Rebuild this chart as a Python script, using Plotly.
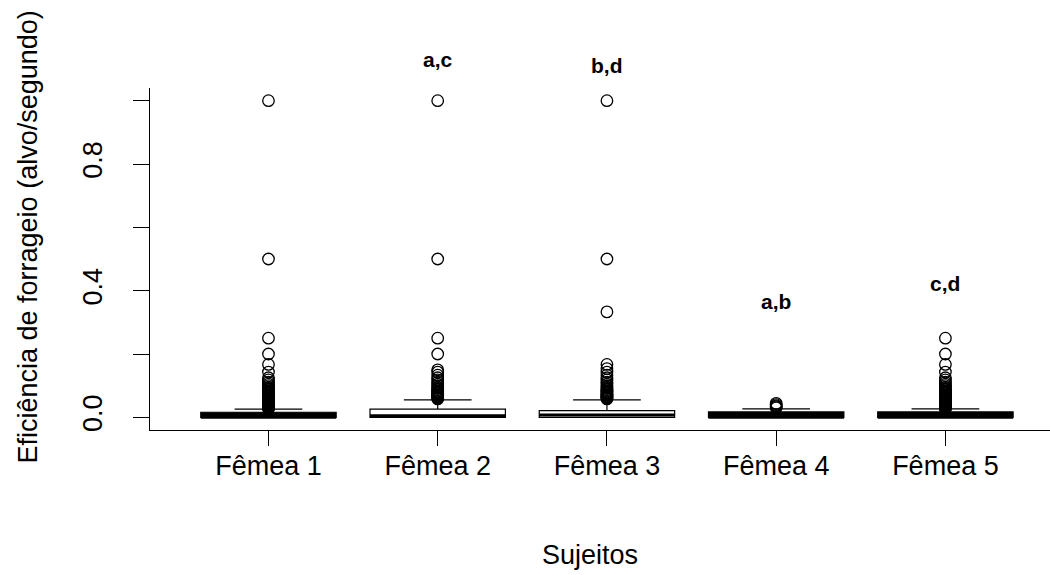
import plotly.graph_objects as go

# ---- data ----
categories = ["Fêmea 1", "Fêmea 2", "Fêmea 3", "Fêmea 4", "Fêmea 5"]
positions = [1, 2, 3, 4, 5]
q1 = [0.0, 0.0, 0.0, 0.0, 0.0]
median = [0.0, 0.005, 0.007, 0.0, 0.0]
q3 = [0.016, 0.026, 0.021, 0.017, 0.017]
lower = [0.0, 0.0, 0.0, 0.0, 0.0]
upper = [0.026, 0.055, 0.055, 0.027, 0.027]
box_fill = ["black", "white", "white", "black", "black"]

out_f1 = [1.0, 0.5, 0.25, 0.2, 0.167, 0.143, 0.125, 0.118, 0.111, 0.105, 0.1, 0.095,
          0.091, 0.087, 0.083, 0.08, 0.077, 0.074, 0.071, 0.069, 0.067, 0.065, 0.0625,
          0.06, 0.058, 0.056, 0.054, 0.052, 0.05, 0.048, 0.047, 0.045, 0.044, 0.043,
          0.042, 0.04, 0.039, 0.038, 0.037, 0.036, 0.035, 0.034, 0.033, 0.032, 0.031,
          0.03, 0.029, 0.028]
out_f2 = [1.0, 0.5, 0.25, 0.2, 0.15, 0.143, 0.133, 0.125, 0.118, 0.111, 0.105, 0.1,
          0.095, 0.091, 0.087, 0.083, 0.08, 0.077, 0.074, 0.071, 0.069, 0.067, 0.065,
          0.0625, 0.06, 0.058]
out_f3 = [1.0, 0.5, 0.333, 0.167, 0.154, 0.143, 0.133, 0.125, 0.118, 0.111, 0.105,
          0.1, 0.095, 0.091, 0.087, 0.083, 0.08, 0.077, 0.074, 0.071, 0.069, 0.067,
          0.065, 0.0625, 0.06, 0.058]
out_f4 = [0.044, 0.04, 0.036, 0.033, 0.03]
out_f5 = [0.25, 0.2, 0.167, 0.143, 0.125, 0.118, 0.111, 0.105, 0.1, 0.095, 0.091,
          0.087, 0.083, 0.08, 0.077, 0.074, 0.071, 0.069, 0.067, 0.065, 0.0625, 0.06,
          0.058, 0.056, 0.054, 0.052, 0.05, 0.048, 0.047, 0.045, 0.044, 0.043, 0.042,
          0.04, 0.039, 0.038, 0.037, 0.036, 0.035, 0.034, 0.033, 0.032, 0.031, 0.03,
          0.029, 0.028]
outliers = [out_f1, out_f2, out_f3, out_f4, out_f5]

sig_labels = ["a,c", "b,d", "a,b", "c,d"]
sig_pos = [2, 3, 4, 5]
sig_y = [1.1286, 1.1115, 0.3665, 0.4227]

y_range = [-0.04, 1.04]
x_range = [0.3, 5.618]
y_ticks = [0.0, 0.2, 0.4, 0.6, 0.8, 1.0]
y_ticktext = ["0.0", "", "0.4", "", "0.8", ""]

x_title = "Sujeitos"
y_title = "Eficiência de forrageio (alvo/segundo)"

# ---- style ----
FONT = "Liberation Sans, Arial, sans-serif"
FS = 27
BOXW = 0.8
fig = go.Figure()

for i, p in enumerate(positions):
    fig.add_trace(go.Box(
        x=[p], q1=[q1[i]], median=[median[i]], q3=[q3[i]],
        lowerfence=[lower[i]], upperfence=[upper[i]],
        width=BOXW, whiskerwidth=0.5, boxpoints=False,
        fillcolor=box_fill[i], line=dict(color="black", width=1.2),
        showlegend=False, hoverinfo="skip"))
    # thick median line (R lwd = 3)
    fig.add_trace(go.Scatter(
        x=[p - BOXW / 2, p + BOXW / 2], y=[median[i], median[i]],
        mode="lines", line=dict(color="black", width=3),
        showlegend=False, hoverinfo="skip"))
    fig.add_trace(go.Scatter(
        x=[p] * len(outliers[i]), y=outliers[i], mode="markers",
        marker=dict(symbol="circle-open", size=11.5, color="black",
                    line=dict(width=1.3, color="black")),
        showlegend=False, cliponaxis=False, hoverinfo="y"))

# significance letters: x on the data axis, y converted from data value to paper
for lab, p, yv in zip(sig_labels, sig_pos, sig_y):
    fig.add_annotation(xref="x", yref="paper", x=p,
                       y=(yv - y_range[0]) / (y_range[1] - y_range[0]),
                       text="<b>%s</b>" % lab, showarrow=False,
                       xanchor="center", yanchor="middle",
                       font=dict(family=FONT, size=21, color="black"))

# axis titles (placed like R's mtext)
fig.add_annotation(xref="paper", yref="paper", x=0.489, y=-0.3655, text=x_title,
                   showarrow=False, xanchor="center", yanchor="middle",
                   font=dict(family=FONT, size=FS, color="black"))
fig.add_annotation(xref="paper", yref="paper", x=-0.1361, y=0.5643, text=y_title,
                   showarrow=False, xanchor="center", yanchor="middle", textangle=-90,
                   font=dict(family=FONT, size=FS, color="black"))

fig.update_layout(
    width=1050, height=575,
    margin=dict(l=150, r=0, t=88, b=145),
    paper_bgcolor="white", plot_bgcolor="white",
    font=dict(family=FONT, size=FS, color="black"),
    xaxis=dict(range=x_range, tickmode="array", tickvals=positions,
               ticktext=categories, showline=True, linecolor="black", linewidth=1,
               ticks="outside", ticklen=15, tickcolor="black", tickwidth=1,
               showgrid=False, zeroline=False, ticklabelstandoff=-3),
    yaxis=dict(range=y_range, tickmode="array", tickvals=y_ticks,
               ticktext=y_ticktext, tickangle=-90, showline=True,
               linecolor="black", linewidth=1, ticks="outside", ticklen=16,
               tickcolor="black", tickwidth=1, showgrid=False, zeroline=False,
               ticklabelstandoff=20),
)

fig.write_html("out.html")
